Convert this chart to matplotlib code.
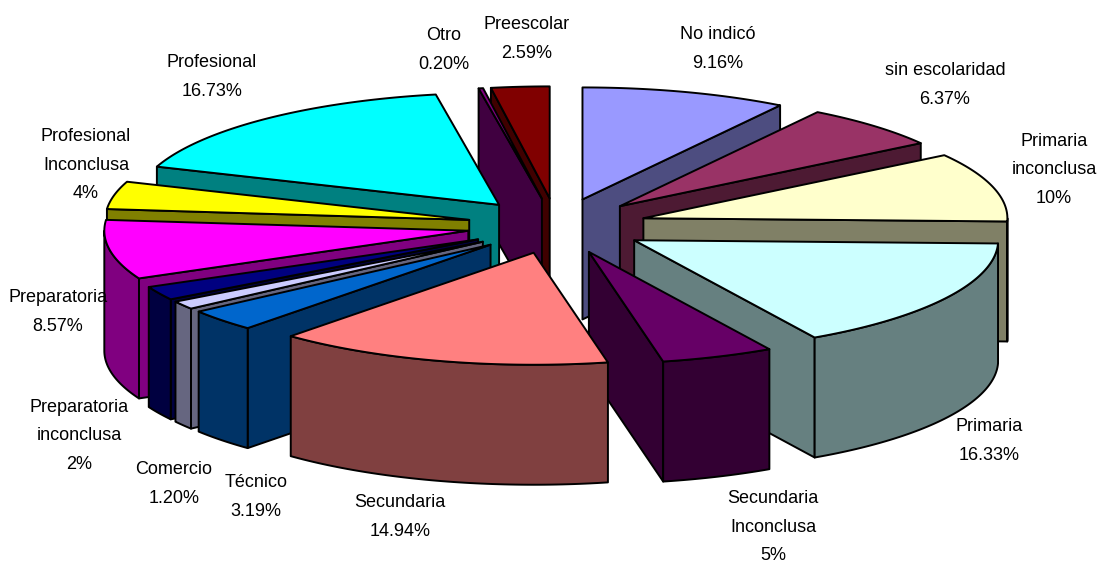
""" Exploded 3D pie of schooling levels, drawn by hand as polygons
"""
import numpy as np
import matplotlib
matplotlib.use("Agg")
import matplotlib.pyplot as plt
from matplotlib.patches import Polygon

categories = ["No indicó", "sin escolaridad", "Primaria\ninconclusa", "Primaria",
              "Secundaria\nInconclusa", "Secundaria", "Técnico", "Comercio",
              "Preparatoria\ninconclusa", "Preparatoria", "Profesional\nInconclusa",
              "Profesional", "Otro", "Preescolar"]
values = [9.16, 6.37, 10, 16.33, 5, 14.94, 3.19, 1.20, 2, 8.57, 4, 16.73, 0.20, 2.59]
value_labels = ["9.16%", "6.37%", "10%", "16.33%", "5%", "14.94%", "3.19%", "1.20%",
                "2%", "8.57%", "4%", "16.73%", "0.20%", "2.59%"]
colors = ["#9999FF", "#993366", "#FFFFCC", "#CCFFFF", "#660066", "#FF8080", "#0066CC",
          "#CCCCFF", "#000080", "#FF00FF", "#FFFF00", "#00FFFF", "#800080", "#800000"]

# label centres in pixels, same order as categories
label_xy = [(718, 49), (945, 85), (1054, 170), (989, 441), (773, 527), (400, 517),
            (256, 497), (174, 484), (79, 436), (58, 312), (86, 165), (212, 77),
            (444, 50), (527, 39)]

# pie geometry in pixels
cx, cy = 557, 226
rx, ry = 364, 112
depth = 120
explode = 90

plt.rcParams['font.family'] = ['Liberation Sans', 'DejaVu Sans']

fig = plt.figure(figsize=(11, 5.63), dpi=100)
ax = fig.add_axes([0, 0, 1, 1])
ax.set_xlim(0, 1100)
ax.set_ylim(563, 0)
ax.axis("off")


def darker(col):
    rgb = np.array(matplotlib.colors.to_rgb(col))
    return tuple(rgb * 0.5)


def rim(a, ox, oy):
    a = np.radians(a)
    return np.column_stack((ox + rx * np.sin(a), oy - ry * np.cos(a)))


def add_poly(pts, col, z):
    ax.add_patch(Polygon(pts, closed=True, facecolor=col, edgecolor="black",
                         linewidth=1.4, joinstyle="round", zorder=z))


total = sum(values)
edges = np.concatenate(([0], np.cumsum(values))) * 360.0 / total
mids = (edges[:-1] + edges[1:]) / 2
order = np.argsort([min(m, 360 - m) for m in mids])

for z, i in enumerate(order):
    a0, a1, mid = edges[i], edges[i + 1], mids[i]
    ox = cx + explode * np.sin(np.radians(mid))
    oy = cy - explode * ry / rx * np.cos(np.radians(mid))
    apex = np.array([[ox, oy]])
    side = darker(colors[i])
    down = np.array([0, depth])

    # cut faces, only those that look towards the viewer
    if np.sin(np.radians(a0)) < 0:
        p = rim(np.array([a0]), ox, oy)
        add_poly(np.vstack((apex, p, p + down, apex + down)), side, z)
    if np.sin(np.radians(a1)) > 0:
        p = rim(np.array([a1]), ox, oy)
        add_poly(np.vstack((apex, p, p + down, apex + down)), side, z)

    # outer wall, front half of the rim
    w0, w1 = max(a0, 90), min(a1, 270)
    if w1 > w0:
        arc = rim(np.linspace(w0, w1, 60), ox, oy)
        add_poly(np.vstack((arc, arc[::-1] + down)), side, z)

    # top
    arc = rim(np.linspace(a0, a1, 80), ox, oy)
    add_poly(np.vstack((apex, arc)), colors[i], z)

for name, val, (x, y) in zip(categories, value_labels, label_xy):
    ax.text(x, y, name + "\n" + val, ha="center", va="center", fontsize=13,
            linespacing=1.9, color="black", zorder=100)

fig.savefig("out.png", dpi=100)
